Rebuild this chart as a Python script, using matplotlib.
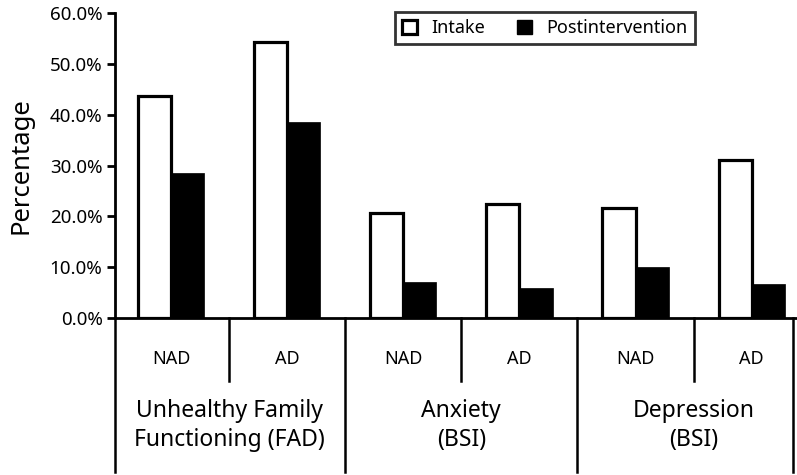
import matplotlib
matplotlib.use("Agg")
import matplotlib.pyplot as plt
import matplotlib.transforms as mtransforms
from matplotlib.patches import Rectangle
import numpy as np

plt.rcParams['font.family'] = ['Noto Sans', 'DejaVu Sans']

subgroups = ["NAD", "AD", "NAD", "AD", "NAD", "AD"]
groups = ["Unhealthy Family\nFunctioning (FAD)", "Anxiety\n(BSI)", "Depression\n(BSI)"]
intake = [43.7, 54.3, 20.7, 22.4, 21.6, 31.1]
post = [28.5, 38.6, 7.1, 5.9, 10.0, 6.7]
yticks = [0, 10, 20, 30, 40, 50, 60]

fig = plt.figure(figsize=(7.97, 4.75), dpi=100)
ax = fig.add_axes([0.1443, 0.3305, 0.8557, 0.6421])

x = np.arange(len(subgroups))
w = 0.285
ax.bar(x - w / 2, intake, w, color="white", edgecolor="black", linewidth=2.3)
ax.bar(x + w / 2, post, w, color="black", edgecolor="black", linewidth=0.5)

ax.set_xlim(-0.482, 5.39)
ax.set_ylim(0, 60)
ax.set_yticks(yticks)
ax.set_yticklabels(["%.1f%%" % v for v in yticks], fontsize=13.5)
ax.set_xticks([])
ax.tick_params(axis="y", direction="out", length=6, width=2, pad=3)
ax.set_ylabel("Percentage", fontsize=18.5, labelpad=12)

for s in ["top", "right"]:
    ax.spines[s].set_visible(False)
for s in ["left", "bottom"]:
    ax.spines[s].set_linewidth(2)

# category separators below the axis
trans = mtransforms.blended_transform_factory(ax.transData, ax.transAxes)
for i in range(0, len(subgroups), 2):
    ax.plot([i + 0.5, i + 0.5], [0, -0.205], color="black", lw=1.8,
            transform=trans, clip_on=False)
    ax.text(i, -0.135, subgroups[i], ha="center", va="center", fontsize=13, transform=trans)
    ax.text(i + 1, -0.135, subgroups[i + 1], ha="center", va="center", fontsize=13, transform=trans)
    ax.text(i + 0.5, -0.353, groups[i // 2], ha="center", va="center", fontsize=16.5,
            linespacing=1.3, transform=trans)
for i in [1, 3]:
    ax.plot([i + 0.5, i + 0.5], [0, -0.505], color="black", lw=1.8,
            transform=trans, clip_on=False)
for xa in [0.0, 0.994]:
    ax.plot([xa, xa], [0, -0.505], color="black", lw=1.8,
            transform=ax.transAxes, clip_on=False)

handles = [Rectangle((0, 0), 1, 1, facecolor="white", edgecolor="black", lw=2.3),
           Rectangle((0, 0), 1, 1, facecolor="black", edgecolor="black")]
leg = ax.legend(handles, ["Intake", "Postintervention"], ncol=2, loc="upper left",
                bbox_to_anchor=(395 / 797, 1 - 12 / 475), bbox_transform=fig.transFigure,
                fontsize=13, frameon=True, fancybox=False, handlelength=0.8,
                handleheight=0.8, handletextpad=0.8, columnspacing=1.8,
                borderpad=0.4, borderaxespad=0)
leg.get_frame().set_edgecolor("black")
leg.get_frame().set_linewidth(2)

fig.savefig("out.png", dpi=100)
